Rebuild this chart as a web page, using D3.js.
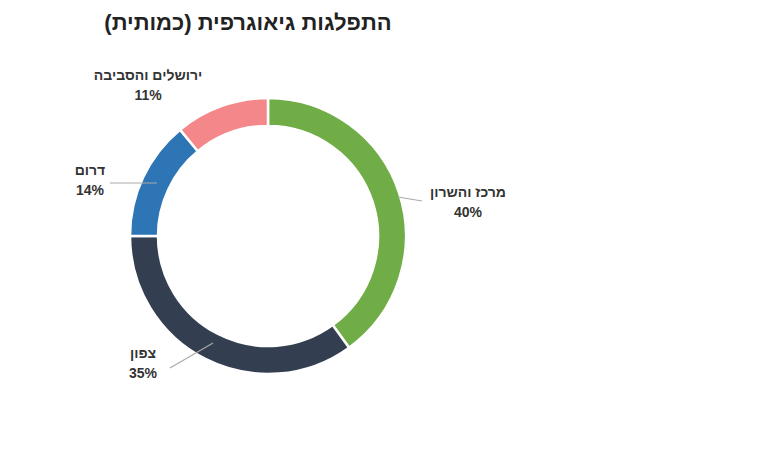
<!DOCTYPE html>
<html><head><meta charset="utf-8">
<script src="https://cdn.jsdelivr.net/npm/d3@7"></script>
<style>body{margin:0;background:#fff}text{font-family:Arial,"Liberation Sans",sans-serif}</style>
</head><body><svg id="c" width="758" height="451"></svg>
<script>
const categories=["מרכז והשרון","צפון","דרום","ירושלים והסביבה"];
const values=[40,35,14,11];
const colors=["#70ad47","#333f50","#2e75b6","#f4878a"];
const labelPos=[[468,197],[143,358],[90,175],[148,80]];
const leaders=[[[398,197],[422,201]],[[213,343],[170,368]],[[110,183],[157,183]],null];
const svg=d3.select("#c");
svg.append("text").attr("x",248).attr("y",30).attr("text-anchor","middle").attr("font-size",22).attr("font-weight","bold").attr("fill","#222").attr("direction","rtl").text("התפלגות גיאוגרפית (כמותית)");
const g=svg.append("g").attr("transform","translate(268,236)");
const pie=d3.pie().sort(null)(values);
const arc=d3.arc().innerRadius(110).outerRadius(138);
g.selectAll("path").data(pie).join("path").attr("d",arc).attr("fill",(d,i)=>colors[i]).attr("stroke","#fff").attr("stroke-width",2.5);
leaders.forEach(l=>{if(l)svg.append("line").attr("x1",l[0][0]).attr("y1",l[0][1]).attr("x2",l[1][0]).attr("y2",l[1][1]).attr("stroke","#aaa").attr("stroke-width",1.2);});
categories.forEach((c,i)=>{const [x,y]=labelPos[i];
 svg.append("text").attr("x",x).attr("y",y).attr("text-anchor","middle").attr("font-size",14).attr("font-weight","bold").attr("fill","#333").attr("direction","rtl").text(c);
 svg.append("text").attr("x",x).attr("y",y+20).attr("text-anchor","middle").attr("font-size",14).attr("font-weight","bold").attr("fill","#333").text(values[i]+"%");
});
</script></body></html>
